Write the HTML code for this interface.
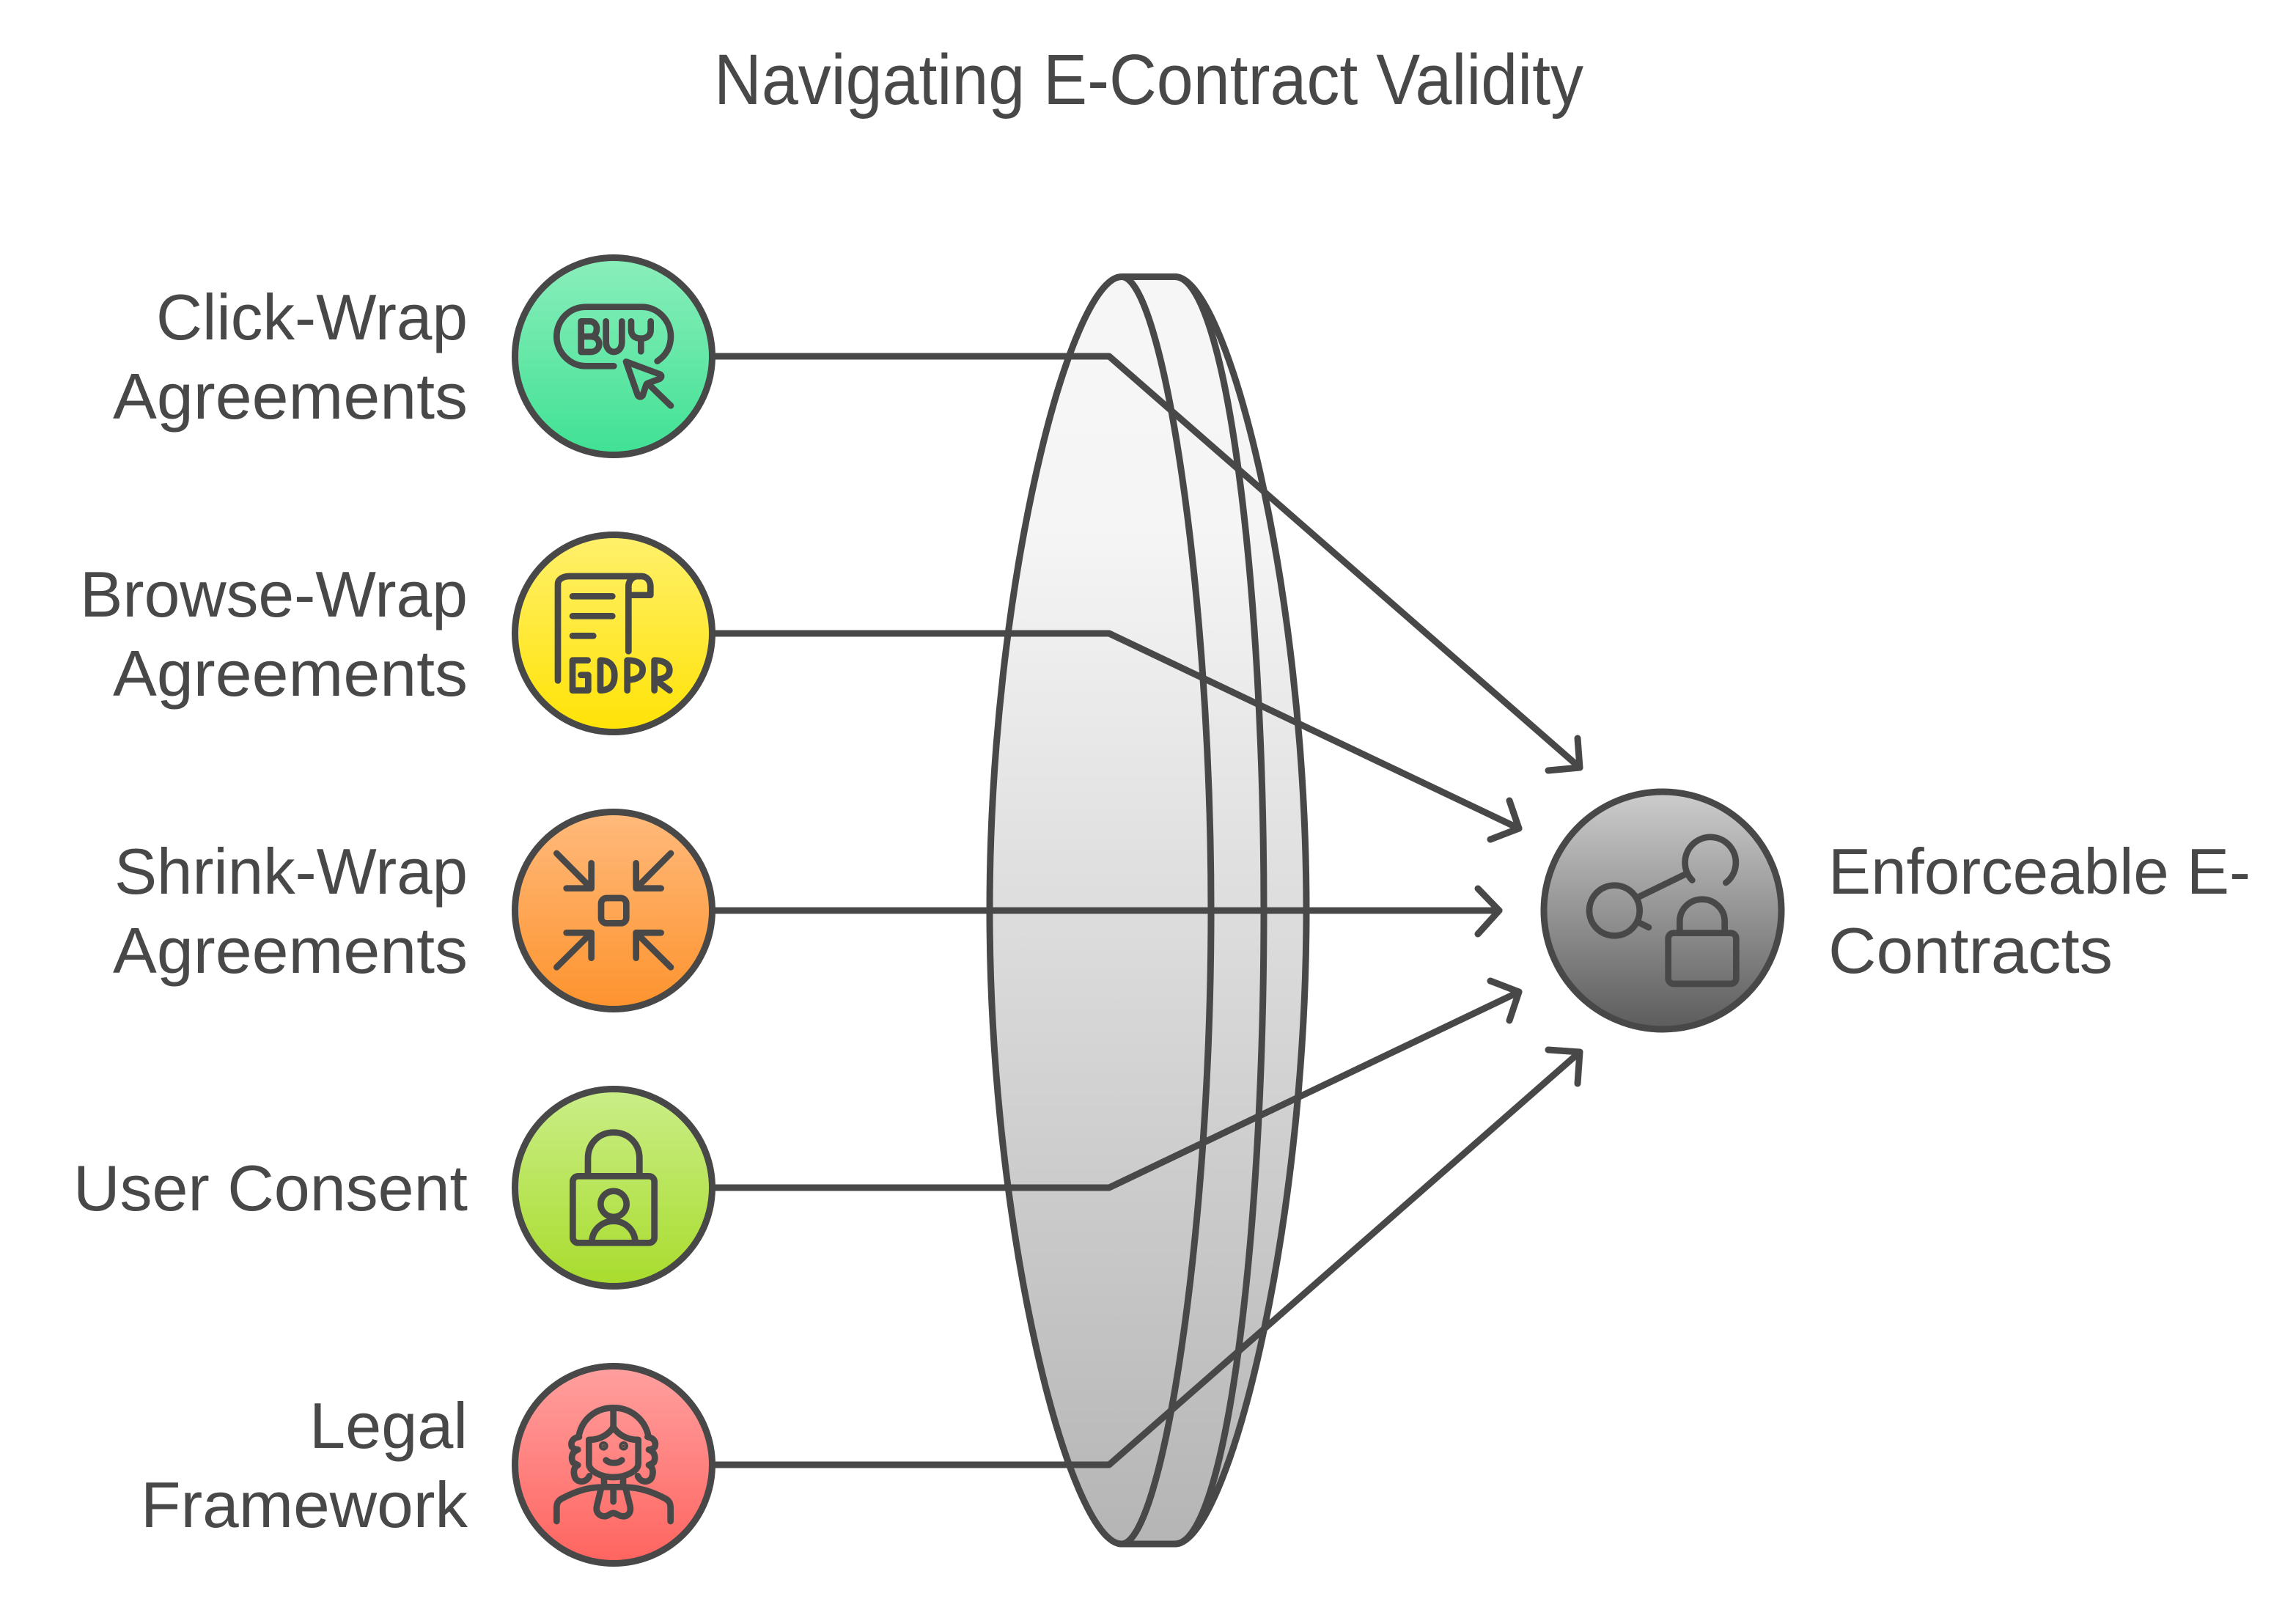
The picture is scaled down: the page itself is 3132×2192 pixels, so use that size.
<!DOCTYPE html>
<html lang="en">
<head>
<meta charset="utf-8">
<title>Navigating E-Contract Validity</title>
<style>
html,body{margin:0;padding:0;background:#fff}
svg{display:block}
text{font-family:"Liberation Sans",Arial,sans-serif;fill:#484848}
.l{font-size:88px}
.ic{fill:none;stroke:#484848;stroke-width:26;stroke-linecap:round;stroke-linejoin:round}
</style>
</head>
<body>
<svg width="3132" height="2192" viewBox="0 0 3132 2192" xmlns="http://www.w3.org/2000/svg">
<defs>
<linearGradient id="lens" x1="0" y1="377" x2="0" y2="2106" gradientUnits="userSpaceOnUse"><stop offset="0" stop-color="#f6f6f6"/><stop offset=".2" stop-color="#f5f5f5"/><stop offset="1" stop-color="#b5b5b5"/></linearGradient>
<linearGradient id="g1" x1="0" y1="0" x2="0" y2="1"><stop offset="0" stop-color="#8aeebb"/><stop offset="1" stop-color="#40e194"/></linearGradient>
<linearGradient id="g2" x1="0" y1="0" x2="0" y2="1"><stop offset="0" stop-color="#fff06c"/><stop offset="1" stop-color="#ffe305"/></linearGradient>
<linearGradient id="g3" x1="0" y1="0" x2="0" y2="1"><stop offset="0" stop-color="#ffba7c"/><stop offset="1" stop-color="#fd932d"/></linearGradient>
<linearGradient id="g4" x1="0" y1="0" x2="0" y2="1"><stop offset="0" stop-color="#caee88"/><stop offset="1" stop-color="#a8dc2c"/></linearGradient>
<linearGradient id="g5" x1="0" y1="0" x2="0" y2="1"><stop offset="0" stop-color="#ffa09f"/><stop offset="1" stop-color="#ff645f"/></linearGradient>
<linearGradient id="g6" x1="0" y1="0" x2="0" y2="1"><stop offset="0" stop-color="#cdcdcd"/><stop offset="1" stop-color="#5c5c5c"/></linearGradient>
</defs>

<text x="974" y="142" font-size="97" textLength="1186" lengthAdjust="spacingAndGlyphs">Navigating E-Contract Validity</text>

<!-- lens -->
<path d="M1530 377.5H1603C1673 377.5 1782 800 1782 1242C1782 1683 1673 2106 1603 2106H1530C1460 2106 1350 1683 1350 1242C1350 800 1460 377.5 1530 377.5Z" fill="url(#lens)" stroke="#484848" stroke-width="9" stroke-linejoin="round"/>
<path d="M1530 377.5C1585 377.5 1652 800 1652 1242C1652 1683 1585 2106 1530 2106" fill="none" stroke="#484848" stroke-width="9"/>
<path d="M1603 377.5C1673 377.5 1724 800 1724 1242C1724 1683 1673 2106 1603 2106" fill="none" stroke="#484848" stroke-width="9"/>

<!-- connectors -->
<g fill="none" stroke="#484848" stroke-width="9" stroke-linecap="round" stroke-linejoin="round">
<path d="M976 486H1513L2155 1047"/><path d="M2152 1007L2155 1047L2112 1051"/>
<path d="M976 864H1513L2072 1130"/><path d="M2059 1092L2072 1130L2033 1145"/>
<path d="M976 1242H2045"/><path d="M2016 1212L2045 1242L2016 1274"/>
<path d="M976 1620H1513L2072 1353"/><path d="M2033 1338L2072 1353L2059 1392"/>
<path d="M976 1998H1513L2155 1435"/><path d="M2112 1432L2155 1435L2152 1478"/>
</g>

<!-- circles -->
<g stroke="#484848" stroke-width="9">
<circle cx="837" cy="486" r="134.5" fill="url(#g1)"/>
<circle cx="837" cy="864" r="134.5" fill="url(#g2)"/>
<circle cx="837" cy="1242" r="134.5" fill="url(#g3)"/>
<circle cx="837" cy="1620" r="134.5" fill="url(#g4)"/>
<circle cx="837" cy="1998" r="134.5" fill="url(#g5)"/>
<circle cx="2268" cy="1242" r="162" fill="url(#g6)"/>
</g>

<!-- BUY -->
<g class="ic" transform="translate(680,330) scale(.33333)">
<path d="M472 508H358C290 508 238 450 238 387C238 320 290 266 358 266H588C650 266 705 320 705 387C705 430 685 465 650 488"/>
<path d="M338 387H378C395 387 402 370 402 355C402 338 390 325 375 325H338V450H378C398 450 412 435 412 418C412 400 398 387 378 387"/>
<path d="M440 325V410C440 435 455 450 472 450C490 450 505 435 505 410V325"/>
<path d="M543 325V360C543 385 560 395 583 395C605 395 623 385 623 360V325M583 395V448"/>
<path d="M522 490L662 542Q672 550 660 560L612 578Q606 580 604 586L590 628Q580 640 570 628Z"/>
<path d="M612 580L705 670"/>
</g>
<!-- GDPR -->
<g class="ic" transform="translate(680,710) scale(.33333)">
<path d="M243 655V260C243 240 265 228 290 228H585C610 228 622 250 622 270V305H532"/>
<path d="M532 535V270C532 250 545 232 565 228"/>
<path d="M303 310H466M303 391H466M303 472H388"/>
<path d="M365 572H303V695H367V632H337"/>
<path d="M417 572V695C460 695 475 670 475 633C475 600 460 572 417 572Z"/>
<path d="M527 695V572C575 572 590 590 590 610C590 635 570 652 527 652"/>
<path d="M638 695V572C680 572 700 590 700 612C700 635 680 650 640 650L700 695"/>
</g>
<!-- compress -->
<g class="ic" transform="translate(680,1090) scale(.33333)">
<path d="M238 222L380 365M380 262V365H278"/>
<path d="M705 222L563 365M563 262V365H665"/>
<path d="M238 688L380 547M278 547H380V650"/>
<path d="M705 688L563 547M665 547H563V650"/>
<rect x="420" y="405" width="103" height="103" rx="22"/>
</g>
<!-- lock user -->
<g class="ic" transform="translate(680,1460) scale(.33333)">
<rect x="304" y="433" width="334" height="273" rx="22"/>
<path d="M366 433V360C366 300 410 254 471 254C532 254 577 300 577 360V433"/>
<circle cx="471" cy="547" r="53"/>
<path d="M382 700C385 650 425 617 471 617C517 617 555 650 560 700"/>
</g>
<!-- judge -->
<g class="ic" transform="translate(680,1840) scale(.33333)">
<path d="M330 350C345 285 400 241 470 241C540 241 595 285 612 350"/>
<path d="M470 241V320"/>
<path d="M370 372C420 372 455 345 470 320C485 345 520 372 572 372"/>
<path d="M370 372V470C370 500 420 525 470 525C520 525 572 500 572 470V372"/>
<path d="M330 360C300 365 295 385 300 400C305 410 325 412 325 412C300 420 295 445 305 465L325 475C305 485 305 510 315 530C330 550 360 545 372 520"/>
<path d="M610 360C640 365 645 385 640 400C635 410 615 412 615 412C640 420 645 445 635 465L615 475C635 485 635 510 625 530C610 550 580 545 570 520"/>
<path d="M440 455C455 470 490 470 505 455"/>
<path d="M432 525V565H510V525"/>
<path d="M238 705V650C238 630 245 620 260 612C310 585 365 567 415 566"/>
<path d="M704 705V650C704 630 697 620 682 612C632 585 575 567 525 566"/>
<path d="M420 570L403 640C395 670 415 685 435 685C450 685 455 672 470 672C485 672 492 685 510 685C530 685 545 670 538 640L520 570"/>
<path d="M470 570V625"/>
<circle cx="430" cy="397" r="6" fill="#484848"/>
<circle cx="512" cy="397" r="6" fill="#484848"/>
</g>
<!-- share lock -->
<g class="ic" transform="translate(2090,1060) scale(.33333)">
<circle cx="337" cy="546" r="103"/>
<path d="M655 422A104 104 0 1 1 793 432"/>
<path d="M437 490L632 395M437 595L477 615"/>
<rect x="557" y="638" width="278" height="208" rx="22"/>
<path d="M604 638V590C604 540 645 500 696 500C745 500 788 540 788 590V638"/>
</g>

<!-- labels -->
<g class="l">
<text x="213" y="463" textLength="425" lengthAdjust="spacingAndGlyphs">Click-Wrap</text>
<text x="154" y="571" textLength="484" lengthAdjust="spacingAndGlyphs">Agreements</text>
<text x="109" y="841" textLength="529" lengthAdjust="spacingAndGlyphs">Browse-Wrap</text>
<text x="154" y="949" textLength="484" lengthAdjust="spacingAndGlyphs">Agreements</text>
<text x="156" y="1219" textLength="482" lengthAdjust="spacingAndGlyphs">Shrink-Wrap</text>
<text x="154" y="1327" textLength="484" lengthAdjust="spacingAndGlyphs">Agreements</text>
<text x="100" y="1651" textLength="538" lengthAdjust="spacingAndGlyphs">User Consent</text>
<text x="422" y="1975" textLength="216" lengthAdjust="spacingAndGlyphs">Legal</text>
<text x="192" y="2083" textLength="446" lengthAdjust="spacingAndGlyphs">Framework</text>
<text x="2494" y="1219" textLength="576" lengthAdjust="spacingAndGlyphs">Enforceable E-</text>
<text x="2494" y="1327" textLength="388" lengthAdjust="spacingAndGlyphs">Contracts</text>
</g>
</svg>
</body>
</html>
